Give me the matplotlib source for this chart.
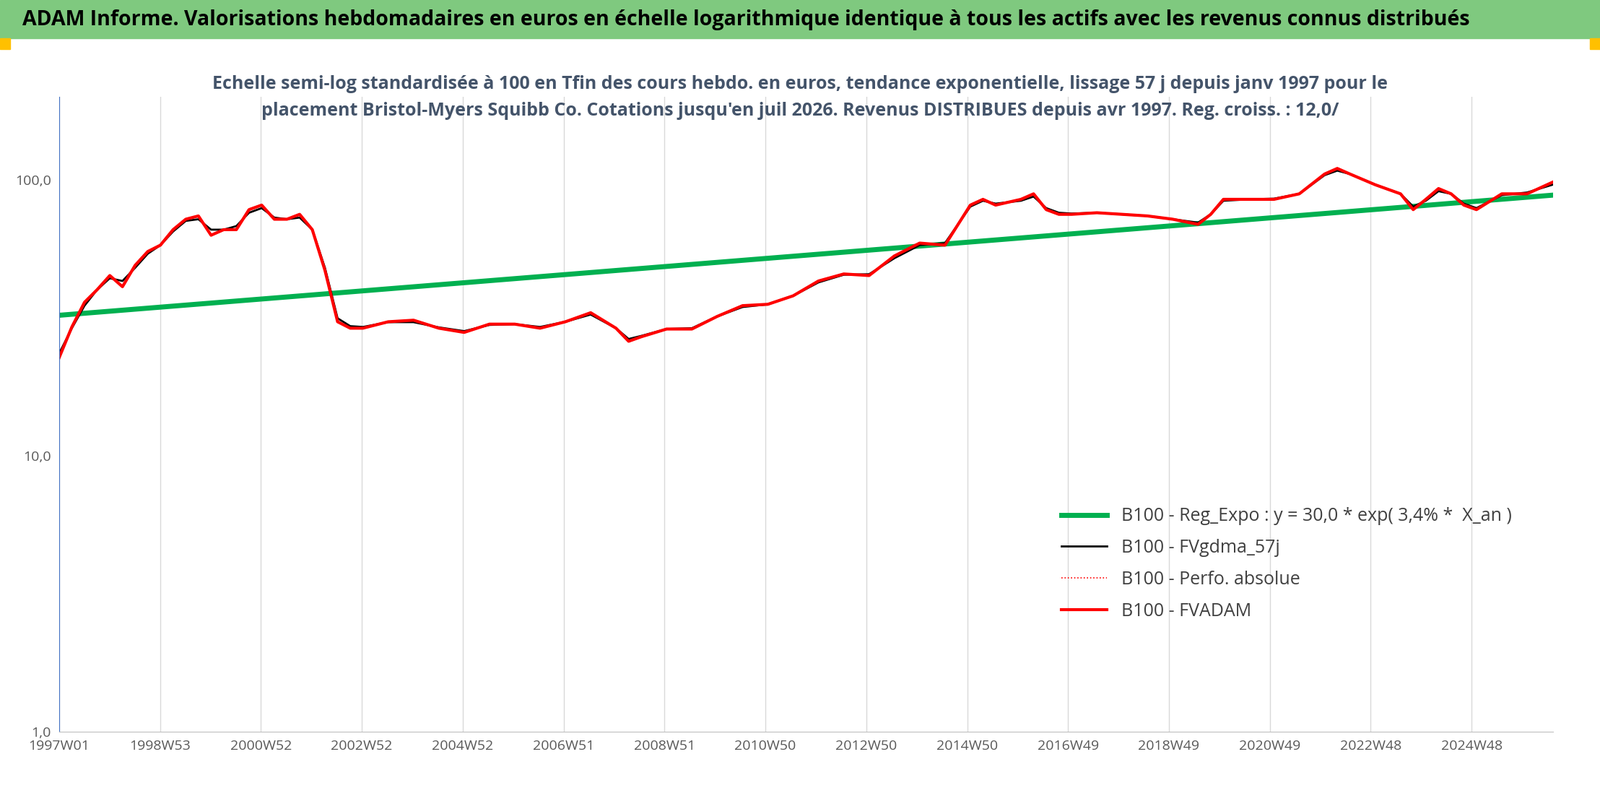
import numpy as np
import matplotlib.pyplot as plt
from matplotlib.patches import Rectangle
from matplotlib.ticker import FixedLocator, NullLocator

plt.rcParams['font.family'] = ['Open Sans', 'DejaVu Sans']

# years (fractional) and FVADAM values, base 100
years = [1997.0, 1997.25, 1997.5, 1997.75, 1998.0, 1998.25, 1998.5, 1998.75, 1999.0, 1999.25, 1999.5,
         1999.75, 2000.0, 2000.25, 2000.5, 2000.75, 2001.0, 2001.25, 2001.5, 2001.75, 2002.0,
         2002.25, 2002.5, 2002.75, 2003.0, 2003.5, 2004.0, 2004.5, 2005.0, 2005.5, 2006.0,
         2006.5, 2007.0, 2007.5, 2008.0, 2008.25, 2008.5, 2009.0, 2009.5, 2010.0, 2010.5,
         2011.0, 2011.5, 2012.0, 2012.5, 2013.0, 2013.5, 2014.0, 2014.5, 2015.0, 2015.25,
         2015.5, 2016.0, 2016.25, 2016.5, 2016.75, 2017.0, 2017.5, 2018.0, 2018.5, 2019.0,
         2019.5, 2019.75, 2020.0, 2020.5, 2021.0, 2021.5, 2022.0, 2022.25, 2022.5, 2023.0,
         2023.5, 2023.75, 2024.0, 2024.25, 2024.5, 2024.75, 2025.0, 2025.5, 2026.0, 2026.5]
fvadam = [22.7, 29.3, 36, 40, 45, 41, 49, 55, 58, 66, 72,
          74, 63, 66, 66, 78, 81, 72, 72, 75, 66,
          47, 30.6, 29, 29, 30.6, 31, 29, 28, 30, 30,
          29, 30.6, 33, 29, 26, 27, 28.8, 28.8, 32, 35,
          35.4, 38, 43, 45.6, 45, 53, 59, 58, 81, 85,
          81, 85, 89, 78, 75, 75, 76, 75, 74, 72,
          69, 75, 85, 85, 85, 89, 105, 110, 105, 96,
          89, 78, 85, 93, 89, 81, 78, 89, 89, 98]
smooth = [23.5, 29, 35, 40, 44, 43, 48, 54, 58, 65, 71,
          72, 66, 66, 68, 76, 79, 73, 72, 73, 66,
          48, 31.5, 29.5, 29.3, 30.5, 30.5, 29.2, 28.3, 29.8, 30,
          29.3, 30.6, 32.5, 29, 26.5, 27.2, 28.8, 29, 32, 34.6,
          35.4, 38, 42.5, 45.3, 45.5, 52, 58, 59, 80, 84,
          82, 84, 87, 79, 76, 75.5, 76, 75, 74, 72,
          70, 75, 84, 85, 85.5, 89, 104, 108, 105, 96,
          89, 80, 84, 91, 89, 82, 79, 88, 90, 96]
trend_years = [1997.0, 2026.5]
trend_vals = [32.3, 88.0]

tick_labels = ['1997W01', '1998W53', '2000W52', '2002W52', '2004W52', '2006W51', '2008W51',
               '2010W50', '2012W50', '2014W50', '2016W49', '2018W49', '2020W49', '2022W48',
               '2024W48']

wk = lambda y: (np.array(y) - 1997.0) * 52.18
x = wk(years)
tx = np.log(trend_vals[0]) + (np.log(trend_vals[1]) - np.log(trend_vals[0])) * np.linspace(0, 1, 50)
txx = wk(trend_years[0]) + (wk(trend_years[1]) - wk(trend_years[0])) * np.linspace(0, 1, 50)

fig = plt.figure(figsize=(22.16, 11.02), dpi=100)
fig.patches.append(Rectangle((0, 1 - 53 / 1102), 1, 53 / 1102, transform=fig.transFigure,
                             color='#7fc97f', zorder=0))
fig.patches.append(Rectangle((0, 1 - 68 / 1102), 14 / 2216, 15 / 1102, transform=fig.transFigure,
                             color='#ffc000'))
fig.patches.append(Rectangle((1 - 14 / 2216, 1 - 68 / 1102), 14 / 2216, 15 / 1102,
                             transform=fig.transFigure, color='#ffc000'))
fig.text(0.014, 1 - 27 / 1102, "ADAM Informe. Valorisations hebdomadaires en euros en échelle logarithmique "
         "identique à tous les actifs avec les revenus connus distribués",
         fontsize=20.5, fontweight='bold', va='center', ha='left')
fig.text(0.5, 1 - 135 / 1102, "Echelle semi-log standardisée à 100 en Tfin des cours hebdo. en euros, "
         "tendance exponentielle, lissage 57 j depuis janv 1997 pour le\nplacement Bristol-Myers Squibb Co. "
         "Cotations jusqu'en juil 2026. Revenus DISTRIBUES depuis avr 1997. Reg. croiss. : 12,0/",
         fontsize=18, fontweight='bold', color='#44546a', ha='center', va='center', linespacing=1.6)

ax = fig.add_axes([82 / 2216, 1 - 1013 / 1102, (2151 - 82) / 2216, (1013 - 134) / 1102])
ax.set_yscale('log')
ax.set_ylim(1, 200)
ax.set_xlim(0, 1540)
ax.plot(txx, np.exp(tx), color='#00b050', lw=5, label='B100 - Reg_Expo : y = 30,0 * exp( 3,4% *  X_an )')
ax.plot(x, smooth, color='black', lw=2, label='B100 - FVgdma_57j')
ax.plot(x, fvadam, color='red', lw=1.2, ls=':', label='B100 - Perfo. absolue')
ax.plot(x, fvadam, color='red', lw=3, label='B100 - FVADAM')

ax.xaxis.set_major_locator(FixedLocator(np.arange(len(tick_labels)) * 104))
ax.set_xticklabels(tick_labels)
ax.yaxis.set_major_locator(FixedLocator([1, 10, 100]))
ax.yaxis.set_minor_locator(NullLocator())
ax.set_yticklabels(['1,0', '10,0', '100,0'])
ax.tick_params(labelsize=14, colors='#595959', length=0, pad=8)
ax.grid(axis='x', color='#d9d9d9', lw=1)
for s in ['top', 'right']:
    ax.spines[s].set_visible(False)
ax.spines['left'].set_color('#4472c4')
ax.spines['bottom'].set_color('#bfbfbf')
leg = ax.legend(loc='lower left', bbox_to_anchor=(0.66, 0.15), frameon=False, fontsize=18,
                handlelength=2.5, labelspacing=0.75, labelcolor='#404040')
fig.savefig('out.png', dpi=100)
